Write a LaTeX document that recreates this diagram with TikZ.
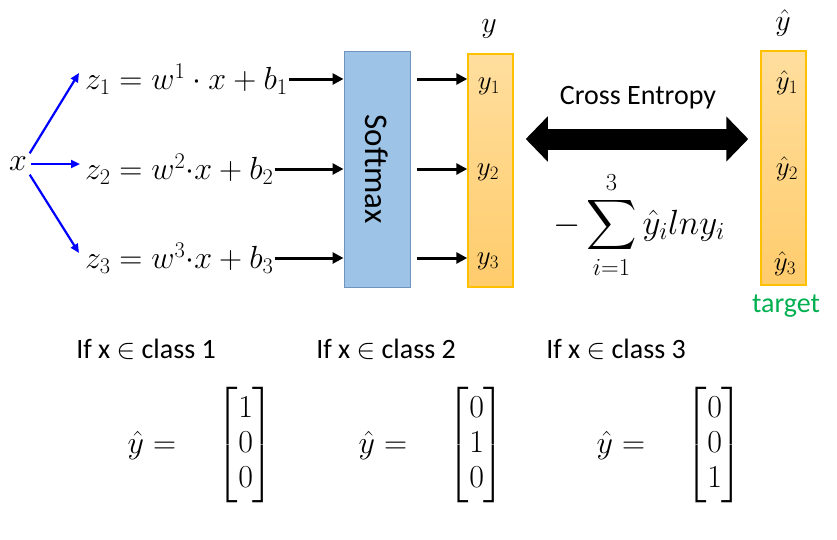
\documentclass[tikz,border=0pt]{standalone}
\usepackage{fix-cm}
\usepackage{amsmath,amssymb}
\usepackage[no-math]{fontspec}
\setmainfont{Carlito}
\usetikzlibrary{arrows.meta,positioning,calc}

\definecolor{smfill}{HTML}{9DC3E6}
\definecolor{smdraw}{HTML}{6F94BE}
\definecolor{boxdraw}{HTML}{FFC000}
\definecolor{boxtop}{HTML}{FFDE9E}
\definecolor{boxbot}{HTML}{FFCC6C}
\definecolor{tgtgreen}{HTML}{00B050}

\begin{document}
\begin{tikzpicture}[
  x=1pt, y=-1pt,
  mtxt/.style={inner sep=1pt, font=\fontsize{32}{35}\selectfont},
  stxt/.style={inner sep=1pt, font=\fontsize{28}{34}\selectfont},
  vtxt/.style={inner sep=1pt, font=\fontsize{27}{32}\selectfont},
  probbox/.style={draw=boxdraw, line width=1.5pt, top color=boxtop, bottom color=boxbot,
    minimum width=45pt, minimum height=233pt, inner sep=0pt},
  bluearrow/.style={blue, line width=2.2pt, shorten <=3pt, -{Triangle[length=9pt,width=8pt]}},
  flow/.style={line width=3pt, -{Triangle[length=11pt,width=11pt]}}
]
\useasboundingbox (0,0) rectangle (837,539);

% input and linear layer
\node[mtxt] (x) at (18,164) {$x$};
\node[mtxt, anchor=west] (z1) at (84,79) {$z_1 = w^1\cdot x + b_1$};
\node[mtxt, anchor=west] (z2) at (84,169) {$z_2 = w^2{\cdot}x + b_2$};
\node[mtxt, anchor=west] (z3) at (84,258) {$z_3 = w^3{\cdot}x + b_3$};

\draw[bluearrow] (x.north east) -- ($(z1.west)+(-5,-6)$);
\draw[bluearrow] (x.east) -- ($(z2.west)+(-4,-5)$);
\draw[bluearrow] (x.south east) -- ($(z3.west)+(-5,-5)$);

% softmax
\node[draw=smdraw, line width=1pt, fill=smfill, minimum width=66pt, minimum height=236pt]
  (softmax) at (377,169) {};
\node[stxt, rotate=-90, font=\fontsize{33}{36}\selectfont] (smtext) at (softmax.center) {Softmax};

\foreach \i in {1,2,3}
  \draw[flow] (z\i.east) -- (z\i.east -| softmax.west);

% output y
\node[probbox] (ybox) at (490.5,170.5) {};
\node[mtxt, font=\fontsize{30}{34}\selectfont] (ylabel) at (489,29) {$y$};
\node[vtxt] (y1) at (489,86) {$y_1$};
\node[vtxt] (y2) at (488,172) {$y_2$};
\node[vtxt] (y3) at (488,261) {$y_3$};

\foreach \i in {1,2,3}
  \draw[flow, shorten <=6pt] (softmax.east |- z\i) -- (ybox.west |- z\i);

% target yhat
\node[probbox, minimum height=234pt] (yhbox) at (783.5,168) {};
\node[mtxt, font=\fontsize{30}{34}\selectfont] (yhlabel) at (783,23) {$\hat{y}$};
\node[vtxt] (yh1) at (787,83) {$\hat{y}_1$};
\node[vtxt] (yh2) at (787,169) {$\hat{y}_2$};
\node[vtxt] (yh3) at (785,264) {$\hat{y}_3$};
\node[stxt, text=tgtgreen] (target) at (786,306) {target};

% cross entropy
\coordinate (cerow) at (637,139);
\node[stxt] (ce) at (638,98) {Cross Entropy};
\draw[line width=21pt, {Triangle[length=22pt,width=44pt]}-{Triangle[length=22pt,width=44pt]}]
  ($(cerow -| ybox.east)+(12,0)$) -- ($(cerow -| yhbox.west)+(-12,0)$);
\node[mtxt, font=\fontsize{35}{38}\selectfont] (loss) at (639,225)
  {$\displaystyle -\sum_{i=1}^{3}\hat{y}_i lny_i$};

% one-hot targets
\node[stxt] (class1) at (146,349) {If x $\in$ class 1};
\node[stxt] (class2) at (386,349) {If x $\in$ class 2};
\node[stxt] (class3) at (616,349) {If x $\in$ class 3};

\node[mtxt] (vec1) at (201,445)
  {$\hat{y} = \quad \begin{bmatrix}1\\0\\0\end{bmatrix}$};
\node[mtxt] (vec2) at (432,445)
  {$\hat{y} = \quad \begin{bmatrix}0\\1\\0\end{bmatrix}$};
\node[mtxt] (vec3) at (670,445)
  {$\hat{y} = \quad \begin{bmatrix}0\\0\\1\end{bmatrix}$};
\end{tikzpicture}
\end{document}
